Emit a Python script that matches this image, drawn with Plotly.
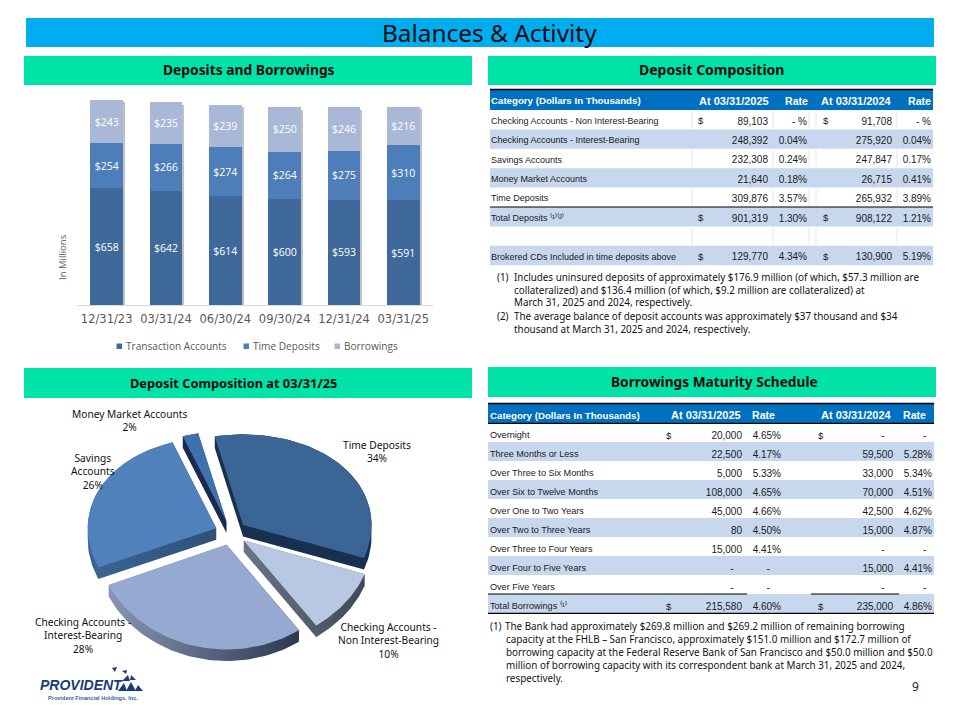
import numpy as np
import plotly.graph_objects as go

# ---------- data ----------
quarters = ["12/31/23", "03/31/24", "06/30/24", "09/30/24", "12/31/24", "03/31/25"]
transaction_accounts = [658, 642, 614, 600, 593, 591]
time_deposits = [254, 266, 274, 264, 275, 310]
borrowings = [243, 235, 239, 250, 246, 216]
series_names = ["Transaction Accounts", "Time Deposits", "Borrowings"]

pie_names = ["Time Deposits", "Checking Accounts -<br>Non Interest-Bearing",
             "Checking Accounts -<br>Interest-Bearing", "Savings<br>Accounts", "Money Market Accounts"]
pie_shares = [34, 10, 28, 26, 2]

dep_categories = ["Checking Accounts - Non Interest-Bearing", "Checking Accounts - Interest-Bearing",
                  "Savings Accounts", "Money Market Accounts", "Time Deposits",
                  "Total Deposits \u207d\u00b9\u207e\u207d\u00b2\u207e", "", "Brokered CDs Included in time deposits above"]
dep_dollar_25 = ["$", "", "", "", "", "$", "", "$"]
dep_bal_25 = ["89,103", "248,392", "232,308", "21,640", "309,876", "901,319", "", "129,770"]
dep_rate_25 = ["- %", "0.04%", "0.24%", "0.18%", "3.57%", "1.30%", "", "4.34%"]
dep_dollar_24 = ["$", "", "", "", "", "$", "", "$"]
dep_bal_24 = ["91,708", "275,920", "247,847", "26,715", "265,932", "908,122", "", "130,900"]
dep_rate_24 = ["- %", "0.04%", "0.17%", "0.41%", "3.89%", "1.21%", "", "5.19%"]

bor_categories = ["Overnight", "Three Months or Less", "Over Three to Six Months", "Over Six to Twelve Months",
                  "Over One to Two Years", "Over Two to Three Years", "Over Three to Four Years",
                  "Over Four to Five Years", "Over Five Years", "Total Borrowings \u207d\u00b9\u207e"]
DASH = "-\u00a0\u00a0\u00a0"
bor_dollar_25 = ["$", "", "", "", "", "", "", "", "", "$"]
bor_bal_25 = ["20,000", "22,500", "5,000", "108,000", "45,000", "80", "15,000", DASH, DASH, "215,580"]
bor_rate_25 = ["4.65%", "4.17%", "5.33%", "4.65%", "4.66%", "4.50%", "4.41%", "-\u00a0\u00a0\u00a0\u00a0", "-\u00a0\u00a0\u00a0\u00a0", "4.60%"]
bor_dollar_24 = ["$", "", "", "", "", "", "", "", "", "$"]
bor_bal_24 = [DASH, "59,500", "33,000", "70,000", "42,500", "15,000", DASH, "15,000", DASH, "235,000"]
bor_rate_24 = ["-\u00a0\u00a0", "5.28%", "5.34%", "4.51%", "4.62%", "4.87%", "-\u00a0\u00a0", "4.41%", "-\u00a0\u00a0", "4.86%"]

dep_notes = ["(1)", "Includes uninsured deposits of approximately $176.9 million (of which, $57.3 million are",
             "collateralized) and $136.4 million (of which, $9.2 million are collateralized) at",
             "March 31, 2025 and 2024, respectively.",
             "(2)", "The average balance of deposit accounts was approximately $37 thousand and $34",
             "thousand at March 31, 2025 and 2024, respectively."]
bor_notes = ["(1)", "The Bank had approximately $269.8 million and $269.2 million of remaining borrowing",
             "capacity at the FHLB – San Francisco, approximately $151.0 million and $172.7 million of",
             "borrowing capacity at the Federal Reserve Bank of San Francisco and $50.0 million and $50.0",
             "million of borrowing capacity with its correspondent bank at March 31, 2025 and 2024,",
             "respectively."]

# ---------- helpers (page pixels -> paper) ----------
W, H = 960, 720
px = lambda x: x / W
py = lambda y: 1 - y / H
SANS = "Noto Sans"
TBL = "Liberation Sans"
NOTE = "Noto Sans"
shapes, annots = [], []


def rect(x0, y0, x1, y1, color):
    shapes.append(dict(type="rect", xref="paper", yref="paper", x0=px(x0), x1=px(x1), y0=py(y1), y1=py(y0),
                       fillcolor=color, line=dict(width=0), layer="below"))


def hline(x0, x1, y, color="#000000", w=1.2):
    shapes.append(dict(type="line", xref="paper", yref="paper", x0=px(x0), x1=px(x1), y0=py(y), y1=py(y),
                       line=dict(color=color, width=w), layer="above"))


def label(x, y, text, size, font=SANS, color="#000000", xanchor="center", bold=False, italic=False, angle=0):
    annots.append(dict(xref="paper", yref="paper", x=px(x), y=py(y), text=text, showarrow=False,
                       xanchor=xanchor, yanchor="middle", align="center" if xanchor == "center" else xanchor,
                       textangle=angle, borderpad=0, borderwidth=0,
                       font=dict(family=font, size=size, color=color, weight=700 if bold else 400,
                                 style="italic" if italic else "normal")))


# ---------- banners ----------
rect(26, 18, 934, 47, "#00AEEF")
label(489.5, 33, "Balances &amp; Activity", 24.4, color="#0A0A14")
GREEN = "#00E3A8"
for x0, x1, y0, y1, cx, size, t in [(24, 472, 56, 85, 248.5, 13.8, "Deposits and Borrowings"),
                                    (488, 936, 56, 85, 711.5, 14, "Deposit Composition"),
                                    (24, 472, 368, 398, 233.5, 12.8, "Deposit Composition at 03/31/25"),
                                    (488, 936, 367, 397, 714, 13.7, "Borrowings Maturity Schedule")]:
    rect(x0, y0, x1, y1, GREEN)
    label(cx, (y0 + y1) / 2 - 0.5, t, size, bold=True, color="#0A0A0A")

fig = go.Figure()

# ---------- stacked bars ----------
BAR_TOP = 92
BAR_BOTTOM = 305
totals = [a + b + c for a, b, c in zip(transaction_accounts, time_deposits, borrowings)]
fig.add_trace(go.Bar(x=quarters, y=totals, xaxis="x", yaxis="y", width=0.556,
                     marker=dict(color="#BEC2C8", line=dict(width=0)), showlegend=False, hoverinfo="skip"))
series_colors = ["#40699B", "#4D7EBA", "#A9B8D6"]
for name, vals, col in zip(series_names, [transaction_accounts, time_deposits, borrowings], series_colors):
    fig.add_trace(go.Bar(name=name, x=quarters, y=vals, xaxis="x2", yaxis="y2", width=0.556,
                         marker=dict(color=col, line=dict(width=0)), showlegend=False,
                         text=[f"${v}" for v in vals], textposition="inside", insidetextanchor="middle",
                         textangle=0, constraintext="none",
                         insidetextfont=dict(family="Open Sans", size=10.5, color="#FFFFFF")))
# legend keys
for x_key, x_text, name, col in zip((119, 246, 337), (125.5, 252.5, 343.5), series_names, series_colors):
    rect(x_key - 2.5, 343.5, x_key + 3, 349, col)
    label(x_text, 346, name, 10.1, font="Open Sans", color="#595959", xanchor="left")

# ---------- exploded tilted pie, geometry computed from the shares ----------
RX, RY = 128.5, 97.0       # pixel size of one unit on the pie axes
PIE_CX, PIE_CY = 231.0, 533.0
DEPTH = 11.5 / RY
EXPLODE = 0.125
PERSPECTIVE = 0.06
START = np.radians(-12.7)
pie_face = ["#3A6594", "#B9C8E2", "#95A9D1", "#4F81BD", "#3F71AE"]
pie_wall = ["#18304F", ["#6A7688", "#3F4958"], ["#8796B4", "#2B3850"], ["#3C6494", "#2F5078"], "#172C4C"]


def hull(pts):
    pts = sorted(set(map(tuple, pts)))
    def half(seq):
        out = []
        for p in seq:
            while len(out) > 1 and (out[-1][0]-out[-2][0])*(p[1]-out[-2][1]) - (out[-1][1]-out[-2][1])*(p[0]-out[-2][0]) <= 0:
                out.pop()
            out.append(p)
        return out[:-1]
    return half(pts) + half(pts[::-1])


edges = START + np.cumsum([0] + pie_shares) / sum(pie_shares) * 2 * np.pi
for i in range(len(pie_shares)):
    t = np.linspace(edges[i], edges[i + 1], 60)
    mid = (edges[i] + edges[i + 1]) / 2
    ox, oy = EXPLODE * np.sin(mid), EXPLODE * np.cos(mid)
    fx = np.r_[ox, ox + np.sin(t), ox]
    fy = np.r_[oy, oy + np.cos(t), oy]
    fy = fy / (1 + PERSPECTIVE * fy)
    wall = hull(list(zip(np.round(fx, 4), np.round(fy, 4))) + list(zip(np.round(fx, 4), np.round(fy - DEPTH, 4))))
    wx, wy = zip(*wall)
    wall_style = dict(fillcolor=pie_wall[i]) if isinstance(pie_wall[i], str) else \
        dict(fillgradient=dict(type="horizontal", colorscale=[[0, pie_wall[i][0]], [1, pie_wall[i][1]]]))
    fig.add_trace(go.Scatter(x=list(wx) + [wx[0]], y=list(wy) + [wy[0]], xaxis="x3", yaxis="y3", mode="lines",
                             line=dict(width=0), fill="toself", showlegend=False, hoverinfo="skip", **wall_style))
    fig.add_trace(go.Scatter(x=fx, y=fy, xaxis="x3", yaxis="y3", mode="lines", line=dict(width=0),
                             fill="toself", fillcolor=pie_face[i], showlegend=False,
                             name=pie_names[i].replace("<br>", " "), hoverinfo="name"))

for (x, y), name, share in zip([(377, 451.5), (388, 640), (83, 635), (93, 471), (129, 420.5)], pie_names, pie_shares):
    label(x, y, f"{name}<br>{share}%", 10.2, color="#111111")

# ---------- tables ----------
BLUE = "#0070C0"
BAND = "#C6D7EE"
TXT = "#1A1A1A"


def table(columns, edges_px, top, bottom, row_h, aligns, sizes):
    fig.add_trace(go.Table(
        domain=dict(x=[px(edges_px[0]), px(edges_px[-1])], y=[py(bottom), py(top)]),
        columnwidth=list(np.diff(edges_px)),
        header=dict(values=[], height=1, line=dict(width=0), fill=dict(color="rgba(0,0,0,0)")),
        cells=dict(values=columns, height=row_h, align=aligns, line=dict(width=0, color="rgba(0,0,0,0)"),
                   fill=dict(color="rgba(0,0,0,0)"), font=dict(family=TBL, size=sizes, color=TXT))))


# deposit composition
rect(490, 90, 933, 110, BLUE)
for i in range(8):
    y0 = 110 + i * 19.4
    if i % 2 == 1:
        rect(490, y0, 933, y0 + 19.4, BAND)
    else:
        for xv in (692, 773, 809, 816, 897):
            shapes.append(dict(type="line", xref="paper", yref="paper", x0=px(xv), x1=px(xv), y0=py(y0 + 1), y1=py(y0 + 18.4),
                               line=dict(color="#DCDFE4", width=0.8), layer="below"))
table([dep_categories, dep_dollar_25, dep_bal_25, dep_rate_25, dep_dollar_24, dep_bal_24, dep_rate_24],
      [483, 690, 716, 776, 815, 841, 900, 939], 93, 270, 19.4,
      ["left", "left", "right", "right", "left", "right", "right"], [9, 9.5, 10, 10, 9.5, 10, 10])
hline(490, 933, 89.5, w=1.4)
hline(490, 933, 207)
for x, anc, t, s in [(491, "left", "Category (Dollars In Thousands)", 9.7), (769, "right", "At 03/31/2025", 11),
                     (808, "right", "Rate", 10.6), (892, "right", "At 03/31/2024", 11), (931, "right", "Rate", 10.6)]:
    label(x, 100.5, t, s, font=TBL, color="#FFFFFF", xanchor=anc, bold=True)

# borrowings schedule
rect(488, 404, 934, 423, BLUE)
for i in range(10):
    y0 = 423 + i * 19
    if i % 2 == 1:
        rect(488, y0, 934, y0 + 19, BAND)
table([bor_categories, bor_dollar_25, bor_bal_25, bor_rate_25, [""] * 10, bor_dollar_24, bor_bal_24, bor_rate_24],
      [482, 658, 690, 750, 789, 810, 838, 901, 940], 407.5, 621, 19,
      ["left", "left", "right", "right", "left", "left", "right", "right"], [9.1, 9.5, 10, 10, 9, 9.5, 10, 10])
hline(488, 934, 403.5, w=1.4)
hline(488, 934, 423.3)
hline(488, 747, 594)
hline(811, 899, 594)
hline(488, 934, 613.3)
for x, anc, t, s in [(490, "left", "Category (Dollars In Thousands)", 9.7), (741, "right", "At 03/31/2025", 11),
                     (775, "right", "Rate", 10.6), (892, "right", "At 03/31/2024", 11), (926, "right", "Rate", 10.6)]:
    label(x, 415.5, t, s, font=TBL, color="#FFFFFF", xanchor=anc, bold=True)

# footnotes
note_pos = [(497, 276.5), (514, 276.5), (514, 289.5), (514, 302.5), (497, 315.5), (514, 315.5), (514, 328.5)]
for (x, y), t in zip(note_pos, dep_notes):
    label(x, y, t, 9.85, font=NOTE, color="#111111", xanchor="left")
bor_pos = [(490, 625.5), (505, 625.5), (506, 638.5), (506, 651.5), (506, 664.5), (506, 677.5)]
for (x, y), t in zip(bor_pos, bor_notes):
    label(x, y, t, 9.85, font=NOTE, color="#111111", xanchor="left")

# ---------- chart side texts, page number, logo ----------
label(62, 257, "In Millions", 9.5, font="Open Sans", color="#595959", angle=-90)
label(915, 686, "9", 12, font=SANS, color="#222222")
label(40, 685, "PROVIDENT", 14, font="Liberation Sans", color="#1B3B78", xanchor="left", bold=True, italic=True)
label(48, 698, "Provident Financial Holdings, Inc.", 5.6, font="Liberation Sans", color="#3E5F94", xanchor="left", bold=True)
for a, b, c in [((118, 691), (124, 683), (127, 691)), ((126, 691), (131, 682), (136, 691)),
                ((135, 691), (138, 685), (143, 691)), ((122, 681), (128, 675), (130, 681)),
                ((130, 680), (131, 675), (136, 680)),
                ((112, 668), (117, 667), (115, 672)), ((122, 671), (127, 670), (126, 674))]:
    shapes.append(dict(type="path", xref="paper", yref="paper",
                       path=f"M {px(a[0])} {py(a[1])} L {px(b[0])} {py(b[1])} L {px(c[0])} {py(c[1])} Z",
                       fillcolor="#1B3B78", line=dict(width=0), layer="above"))

# ---------- axes ----------
BAR_SCALE = (BAR_BOTTOM - BAR_TOP) / 1200
shift_x = 2.0 / 59.33
shift_y = 2.5 / BAR_SCALE
dom_x = [px(77), px(433)]
dom_y = [py(BAR_BOTTOM), py(BAR_TOP)]
hidden = dict(visible=False, showgrid=False, zeroline=False, fixedrange=True)
pie_dom_x = [px(24), px(472)]
pie_dom_y = [py(692), py(398)]
fig.update_layout(
    width=W, height=H, autosize=False, margin=dict(l=0, r=0, t=0, b=0), showlegend=False,
    paper_bgcolor="#FFFFFF", plot_bgcolor="rgba(0,0,0,0)", barmode="stack",
    shapes=shapes, annotations=annots,
    font=dict(family=SANS),
    xaxis=dict(domain=dom_x, range=[-0.5 - shift_x, 5.5 - shift_x], **hidden),
    yaxis=dict(domain=dom_y, range=[shift_y, 1200 + shift_y], anchor="x", **hidden),
    xaxis2=dict(domain=dom_x, range=[-0.5, 5.5], anchor="y2", showgrid=False, zeroline=False, showline=True,
                linecolor="#D9D9D9", linewidth=1, ticks="outside", ticklen=3, tickcolor="rgba(0,0,0,0)",
                tickfont=dict(family="DejaVu Sans", size=11.5, color="#595959"),
                tickangle=0, fixedrange=True),
    yaxis2=dict(domain=dom_y, range=[0, 1200], anchor="x2", **hidden),
    xaxis3=dict(domain=pie_dom_x, range=[(24 - PIE_CX) / RX, (472 - PIE_CX) / RX], anchor="y3", **hidden),
    yaxis3=dict(domain=pie_dom_y, range=[(PIE_CY - 692) / RY, (PIE_CY - 398) / RY], anchor="x3", **hidden),
)

fig.write_html("out.html", config=dict(displayModeBar=False),
               post_script="document.body.style.margin='0';document.body.style.overflow='hidden';")
